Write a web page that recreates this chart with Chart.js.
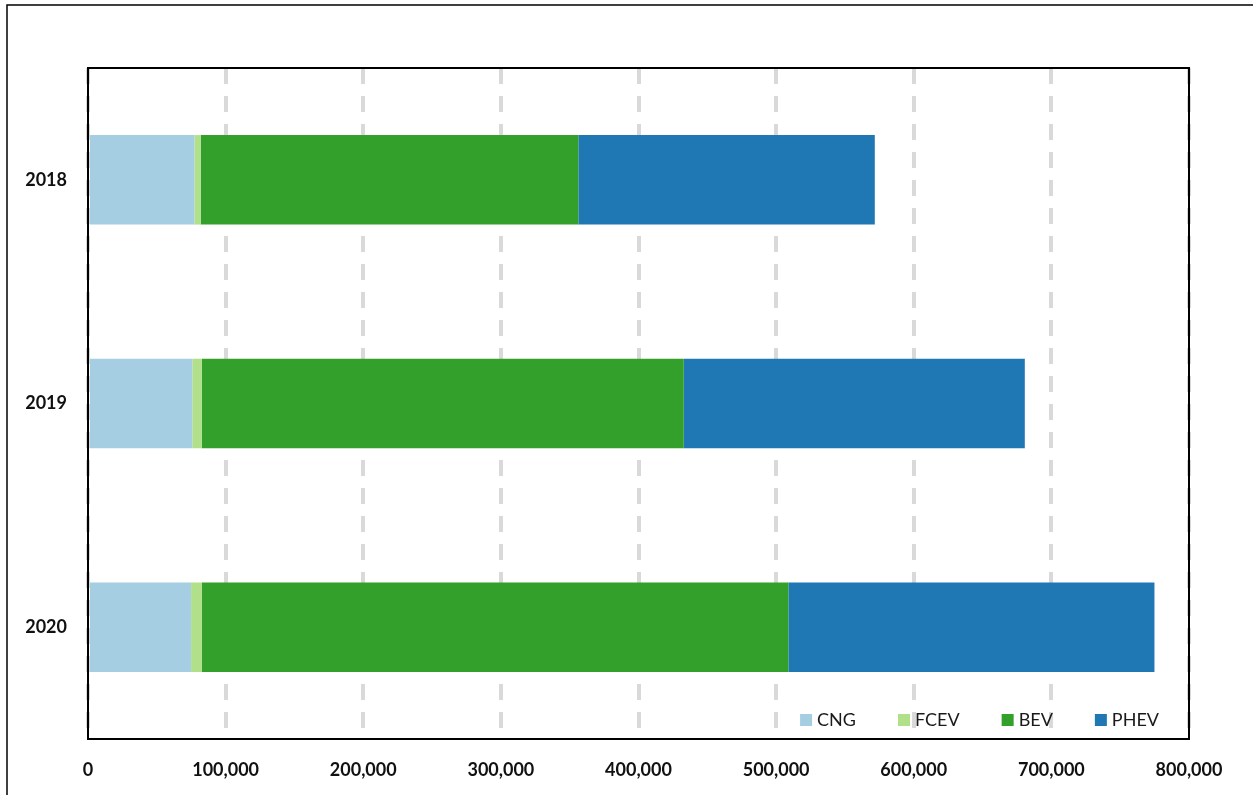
<!DOCTYPE html>
<html>
<head>
<meta charset="utf-8">
<script src="https://cdn.jsdelivr.net/npm/chart.js@4"></script>
<style>
  html, body { margin: 0; padding: 0; background: #fff; }
  #wrap { width: 1253px; height: 795px; position: relative; }
</style>
</head>
<body>
<div id="wrap"><canvas id="fuelChart"></canvas></div>
<script>
// vehicle counts by fuel type
const years = ["2018", "2019", "2020"];
const cng = [77300, 75800, 74900];
const fcev = [4600, 6800, 7900];
const bev = [274400, 350300, 426100];
const phev = [215400, 247800, 266000];
const seriesNames = ["CNG", "FCEV", "BEV", "PHEV"];
const seriesColors = ["#a6cee3", "#b2df8a", "#34a02c", "#1f78b4"];

const FONT = "Lato, 'Open Sans', sans-serif";

// frame around the whole figure + box around the plot area
const framePlugin = {
  id: "frames",
  beforeDraw(chart) {
    const c = chart.ctx;
    c.save();
    c.fillStyle = "#fff";
    c.fillRect(0, 0, chart.width, chart.height);
    c.strokeStyle = "#000";
    c.lineWidth = 1.5;
    c.strokeRect(7, 5, chart.width + 10, chart.height + 10);
    c.restore();
  },
  afterDraw(chart) {
    const a = chart.chartArea;
    const c = chart.ctx;
    c.save();
    c.strokeStyle = "#000";
    c.lineWidth = 2;
    c.strokeRect(a.left, a.top, a.right - a.left, a.bottom - a.top);
    c.restore();
  }
};

// legend row inside the plot, bottom right
const legendPlugin = {
  id: "innerLegend",
  afterDraw(chart) {
    const c = chart.ctx;
    const a = chart.chartArea;
    const box = 12, textGap = 5, itemGap = 42;
    c.save();
    c.font = "18px " + FONT;
    c.textBaseline = "middle";
    const items = chart.data.datasets.map(ds => ({
      label: ds.label, color: ds.backgroundColor, w: c.measureText(ds.label).width
    }));
    let total = 0;
    items.forEach((it, i) => { total += box + textGap + it.w + (i < items.length - 1 ? itemGap : 0); });
    let x = a.right - 30 - total;
    const y = 720;
    items.forEach(it => {
      c.fillStyle = it.color;
      c.fillRect(x, y - box / 2, box, box);
      c.fillStyle = "#1a1a1a";
      c.fillText(it.label, x + box + textGap, y);
      x += box + textGap + it.w + itemGap;
    });
    c.restore();
  }
};

const ctx = document.getElementById("fuelChart").getContext("2d");
new Chart(ctx, {
  type: "bar",
  data: {
    labels: years,
    datasets: [cng, fcev, bev, phev].map((d, i) => ({
      label: seriesNames[i],
      data: d,
      backgroundColor: seriesColors[i],
      borderWidth: 0,
      categoryPercentage: 1,
      barPercentage: 0.4
    }))
  },
  options: {
    indexAxis: "y",
    responsive: true,
    maintainAspectRatio: false,
    animation: false,
    layout: { padding: { left: 0, top: 68, right: 64, bottom: 0 } },
    plugins: {
      legend: { display: false },
      tooltip: { enabled: false }
    },
    scales: {
      x: {
        stacked: true,
        min: 0,
        max: 800000,
        afterFit: s => { s.height = 56; },
        ticks: {
          stepSize: 100000,
          padding: 20,
          color: "#111",
          font: { family: FONT, size: 18, weight: "bold" },
          callback: v => v.toLocaleString("en-US")
        },
        grid: { color: "#d9d9d9", lineWidth: 4, drawTicks: false },
        border: { display: false, dash: [16, 12] }
      },
      y: {
        stacked: true,
        afterFit: s => { s.width = 88; },
        ticks: {
          padding: 21,
          color: "#111",
          font: { family: FONT, size: 18, weight: "bold" }
        },
        grid: { display: false, drawTicks: false },
        border: { display: false }
      }
    }
  },
  plugins: [framePlugin, legendPlugin]
});
</script>
</body>
</html>
